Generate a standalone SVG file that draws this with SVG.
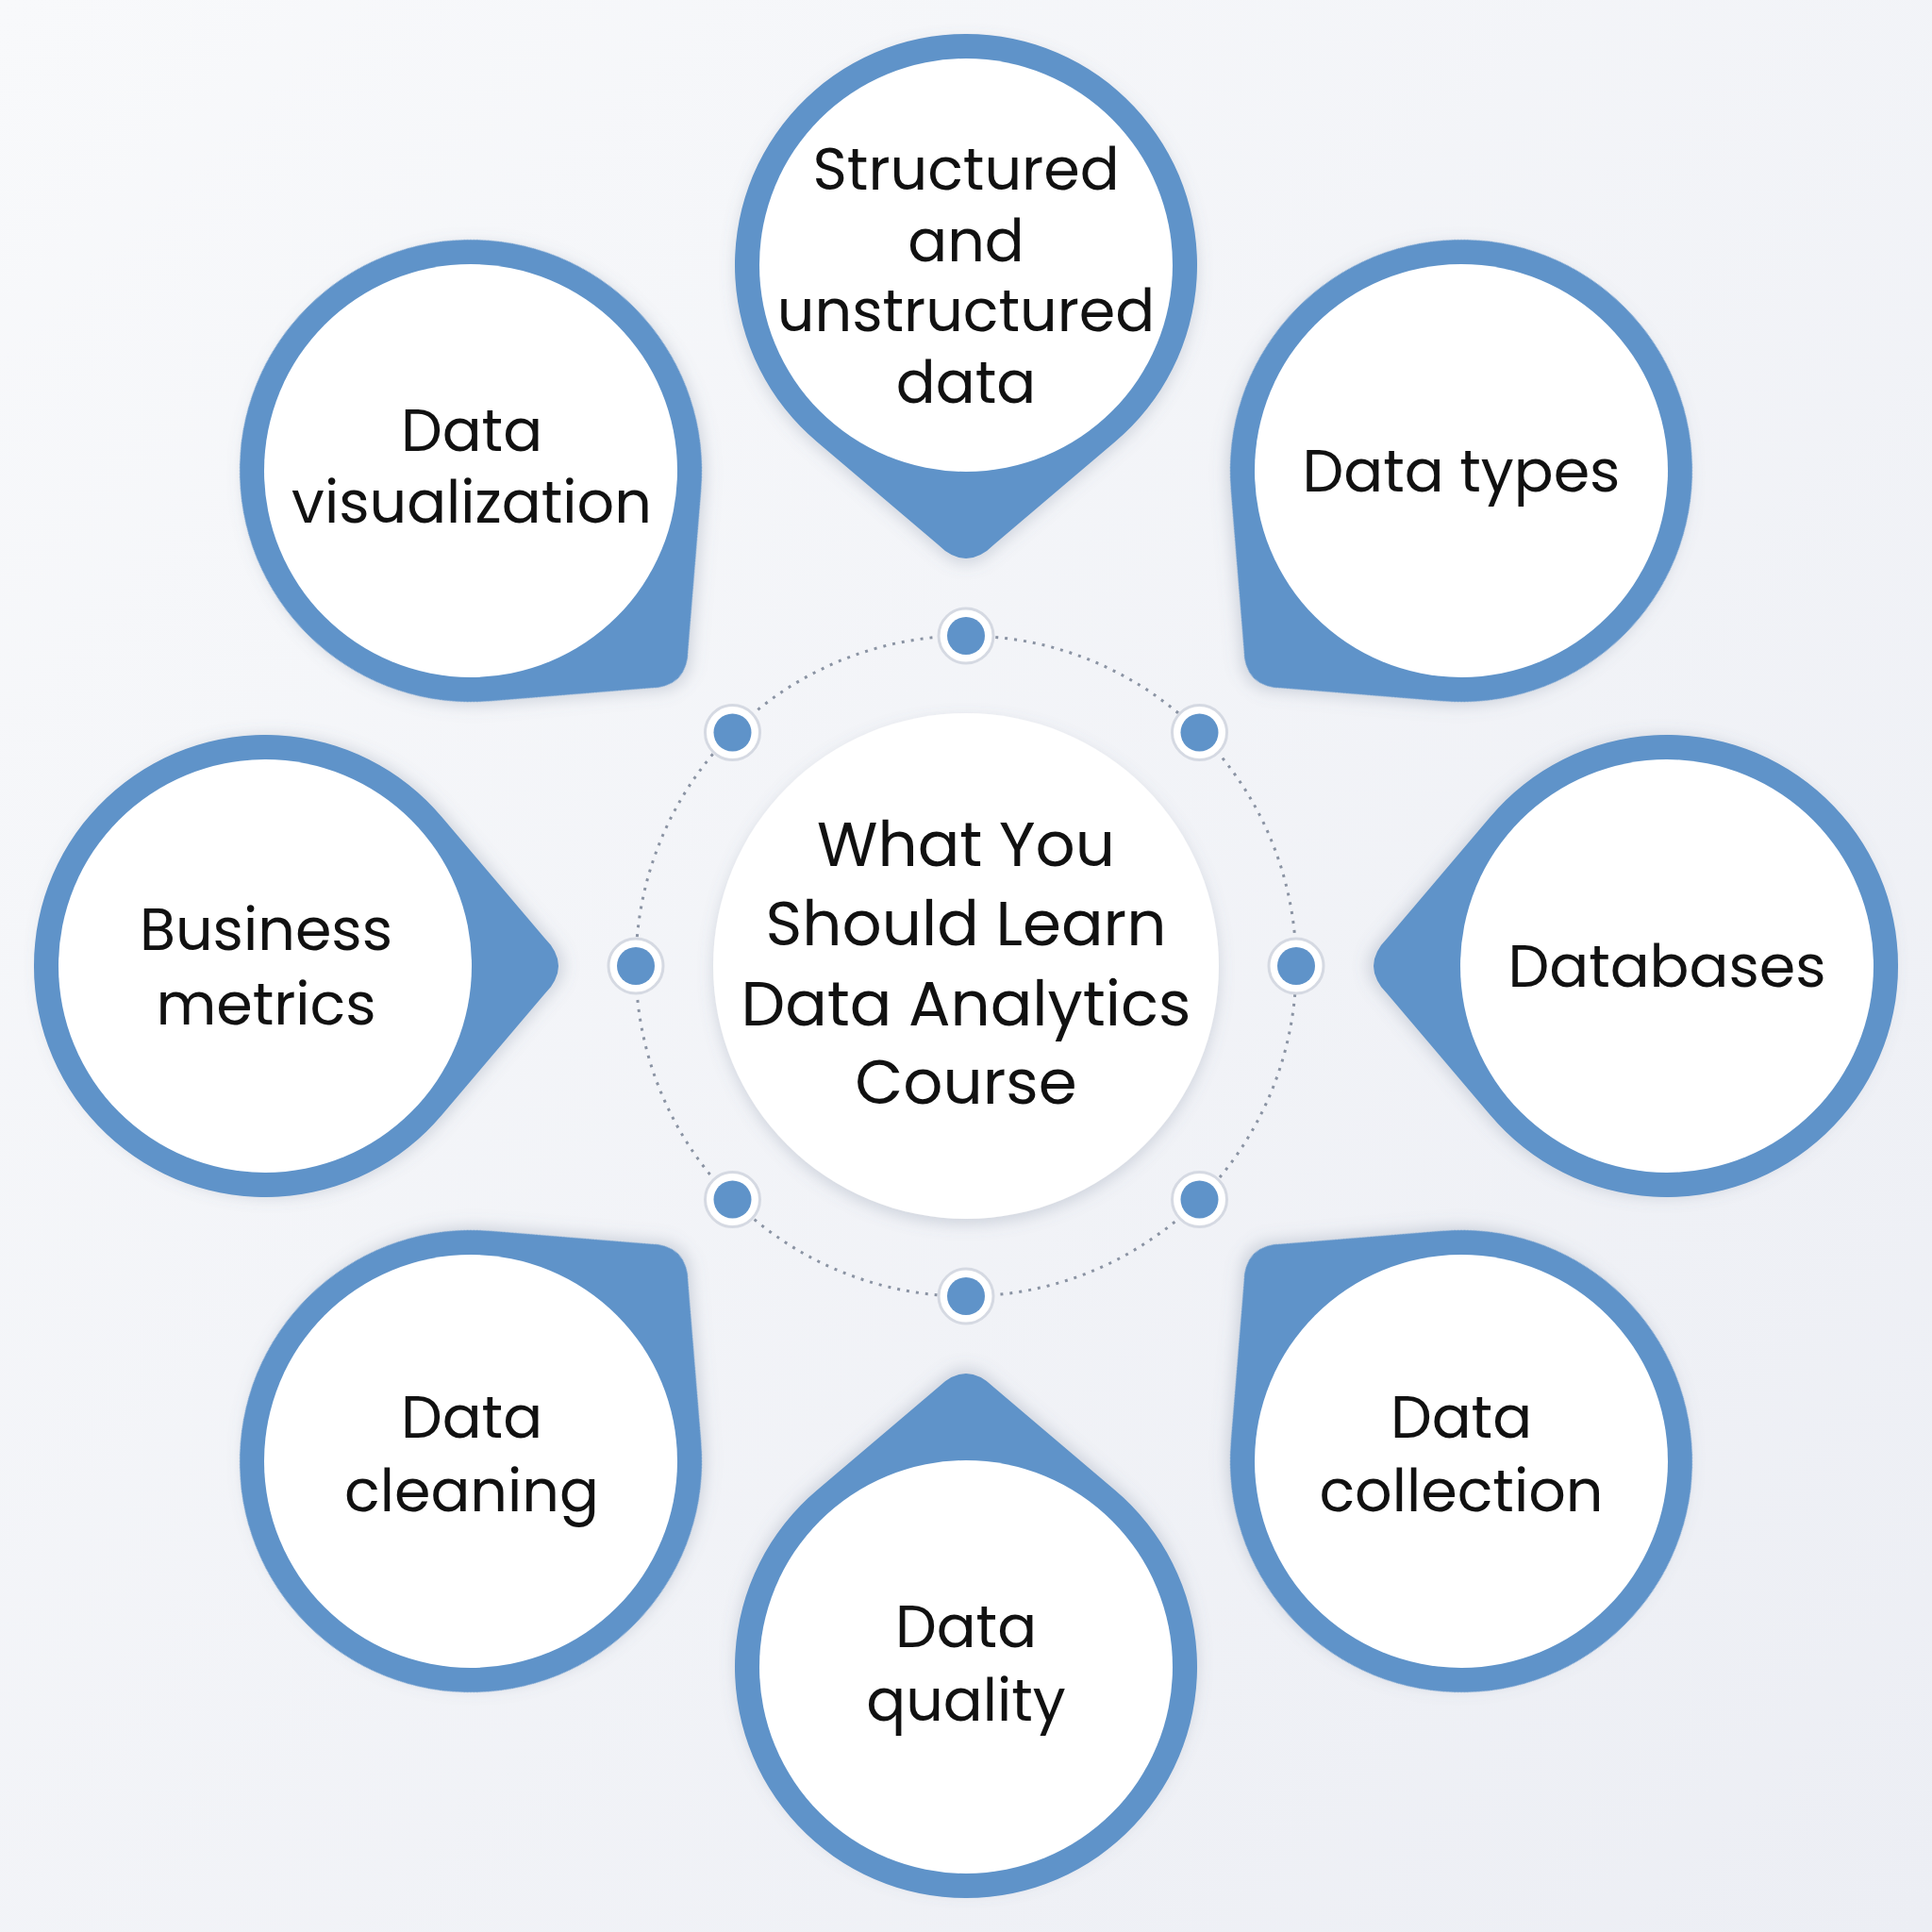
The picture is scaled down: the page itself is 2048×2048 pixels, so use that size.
<svg xmlns="http://www.w3.org/2000/svg" width="2048" height="2048" viewBox="0 0 2048 2048">
<defs>
<linearGradient id="bg" x1="0" y1="0" x2="1" y2="1"><stop offset="0" stop-color="#f8f9fb"/><stop offset="1" stop-color="#eceef4"/></linearGradient>
<filter id="sh" x="-20%" y="-20%" width="140%" height="140%"><feDropShadow dx="0" dy="6" stdDeviation="8" flood-color="#6a7890" flood-opacity="0.25"/></filter>
<path id="petal" d="M -157.5,187.7 A 245 245 0 1 1 157.5,187.7 L 30,296 Q 0,326 -30,296 Z"/>
</defs>
<style>
.p{fill:#5f93c9}
.w{fill:#fff}
text{font-family:Poppins,"Noto Sans",Inter,sans-serif;font-size:62px;fill:#111;text-anchor:middle;dominant-baseline:central}
.c{font-size:66px}
.ring{fill:none;stroke:#8a93a3;stroke-width:3;stroke-dasharray:3 7}
.dh{fill:#fff;stroke:#d5d9e2;stroke-width:3}
.dd{fill:#5f93c9}
</style>
<rect width="2048" height="2048" fill="url(#bg)"/>
<g id="connectors">
<circle class="ring" cx="1024" cy="1024" r="350"/>
<g>
<circle class="dh" cx="1024" cy="674" r="29"/><circle class="dd" cx="1024" cy="674" r="20"/>
<circle class="dh" cx="1271.5" cy="776.5" r="29"/><circle class="dd" cx="1271.5" cy="776.5" r="20"/>
<circle class="dh" cx="1374" cy="1024" r="29"/><circle class="dd" cx="1374" cy="1024" r="20"/>
<circle class="dh" cx="1271.5" cy="1271.5" r="29"/><circle class="dd" cx="1271.5" cy="1271.5" r="20"/>
<circle class="dh" cx="1024" cy="1374" r="29"/><circle class="dd" cx="1024" cy="1374" r="20"/>
<circle class="dh" cx="776.5" cy="1271.5" r="29"/><circle class="dd" cx="776.5" cy="1271.5" r="20"/>
<circle class="dh" cx="674" cy="1024" r="29"/><circle class="dd" cx="674" cy="1024" r="20"/>
<circle class="dh" cx="776.5" cy="776.5" r="29"/><circle class="dd" cx="776.5" cy="776.5" r="20"/>
</g>
</g>
<g id="center">
<circle class="w" cx="1024" cy="1024" r="268" filter="url(#sh)"/>
<text class="c" x="1024" y="895">What You</text>
<text class="c" x="1024" y="979">Should Learn</text>
<text class="c" x="1024" y="1064">Data Analytics</text>
<text class="c" x="1024" y="1147">Course</text>
</g>
<g id="n-structured">
<g transform="translate(1024,281)"><use href="#petal" class="p" filter="url(#sh)"/><circle class="w" r="219"/></g>
<text x="1024" y="179">Structured</text><text x="1024" y="255">and</text><text x="1024" y="329">unstructured</text><text x="1024" y="405">data</text>
</g>
<g id="n-types">
<g transform="translate(1549,499) rotate(45)"><use href="#petal" class="p" filter="url(#sh)"/><circle class="w" r="219"/></g>
<text x="1549" y="499">Data types</text>
</g>
<g id="n-databases">
<g transform="translate(1767,1024) rotate(90)"><use href="#petal" class="p" filter="url(#sh)"/><circle class="w" r="219"/></g>
<text x="1767" y="1024">Databases</text>
</g>
<g id="n-collection">
<g transform="translate(1549,1549) rotate(135)"><use href="#petal" class="p" filter="url(#sh)"/><circle class="w" r="219"/></g>
<text x="1549" y="1502">Data</text><text x="1549" y="1580">collection</text>
</g>
<g id="n-quality">
<g transform="translate(1024,1767) rotate(180)"><use href="#petal" class="p" filter="url(#sh)"/><circle class="w" r="219"/></g>
<text x="1024" y="1724">Data</text><text x="1024" y="1802">quality</text>
</g>
<g id="n-cleaning">
<g transform="translate(499,1549) rotate(225)"><use href="#petal" class="p" filter="url(#sh)"/><circle class="w" r="219"/></g>
<text x="500" y="1502">Data</text><text x="500" y="1580">cleaning</text>
</g>
<g id="n-business">
<g transform="translate(281,1024) rotate(270)"><use href="#petal" class="p" filter="url(#sh)"/><circle class="w" r="219"/></g>
<text x="282" y="985">Business</text><text x="282" y="1064">metrics</text>
</g>
<g id="n-viz">
<g transform="translate(499,499) rotate(315)"><use href="#petal" class="p" filter="url(#sh)"/><circle class="w" r="219"/></g>
<text x="500" y="456">Data</text><text x="500" y="532">visualization</text>
</g>
</svg>
